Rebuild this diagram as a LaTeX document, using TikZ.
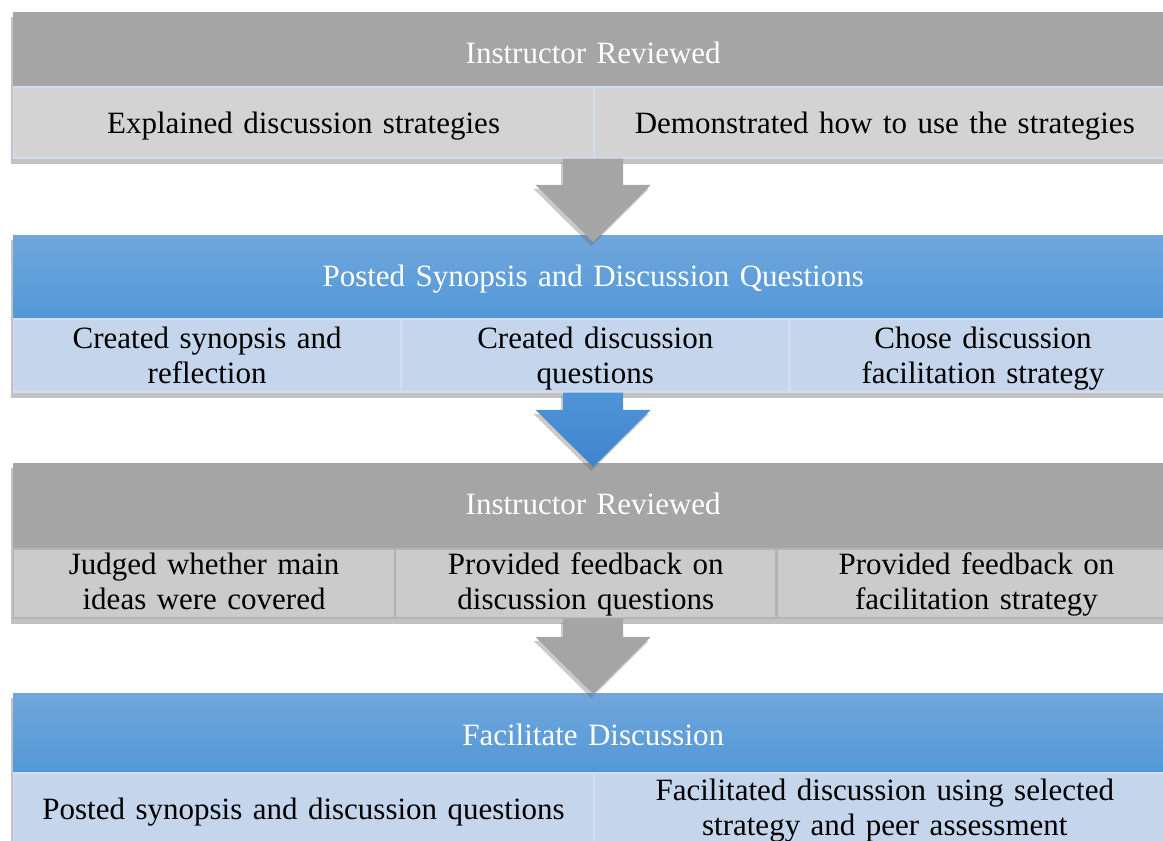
\documentclass[tikz,border=0pt]{standalone}
\usepackage{fontspec}
\setmainfont[WordSpace=1.35]{Liberation Serif}
\usetikzlibrary{backgrounds}
\usetikzlibrary{positioning}
\usetikzlibrary{shadows}
\usetikzlibrary{calc}
\usetikzlibrary{fit}

\definecolor{hdgray}{HTML}{A5A5A5}
\definecolor{cellgray}{HTML}{D3D3D3}
\definecolor{cellgrayb}{HTML}{CBCBCB}
\definecolor{linegray}{HTML}{B4B4B4}
\definecolor{hdbluetop}{HTML}{70A6DB}
\definecolor{hdbluebot}{HTML}{5298D8}
\definecolor{cellblue}{HTML}{C4D5EC}
\definecolor{lineblue}{HTML}{D2DEF0}
\definecolor{arrowbluetop}{HTML}{4F94D7}
\definecolor{arrowbluebot}{HTML}{3E85CC}

\newcommand\twolines[3]{\rule{0pt}{#1}#2\\\rule[-8pt]{0pt}{8pt}#3}

\tikzset{
  txt/.style={font=\fontsize{31}{35}\selectfont},
  tshift/.code={\pgfmathsetlengthmacro\tshh{20pt+#1}\pgfmathsetlengthmacro\tshd{20pt-#1}%
    \tikzset{text height=\tshh, text depth=\tshd}},
  hdr/.style={txt, anchor=north west, inner sep=0pt, text=white},
  hdrgray/.style={hdr, fill=hdgray},
  hdrblue/.style={hdr, top color=hdbluetop, bottom color=hdbluebot},
  cell/.style={txt, anchor=north west, inner sep=0pt, align=center, line width=1.2pt},
  cellgrayA/.style={cell, fill=cellgray, draw=lineblue},
  cellgrayB/.style={cell, fill=cellgrayb, draw=linegray},
  cellblueA/.style={cell, fill=cellblue, draw=lineblue},
  blockshadow/.style={inner sep=0pt, fill=white, drop shadow={shadow xshift=-2pt, shadow yshift=-5pt, opacity=0.4, fill=black!60}},
  arrowgray/.style={fill=hdgray, drop shadow={shadow xshift=-2pt, shadow yshift=-4pt, opacity=0.35, fill=black!60}},
  arrowblue/.style={top color=arrowbluetop, bottom color=arrowbluebot, drop shadow={shadow xshift=-2pt, shadow yshift=-4pt, opacity=0.35, fill=black!60}}
}

\newcommand\flowarrow[3]{%
  \path[#1] ($(#2)+(-30,0)$) -- ($(#3)+(-30,57)$) -- ($(#3)+(-57.5,57)$) -- (#3)
    -- ($(#3)+(57.5,57)$) -- ($(#3)+(30,57)$) -- ($(#2)+(30,0)$) -- cycle;}

\begin{document}
\begin{tikzpicture}[x=1pt,y=1pt]
\useasboundingbox (0,0) rectangle (1163,841);

\node[hdrgray, tshift=14pt, minimum width=1160, minimum height=74] (h1) at (13,829) {Instructor Reviewed};
\node[cellgrayA, tshift=11.5pt, minimum width=580, minimum height=71] (c11) at (h1.south west) {Explained discussion strategies};
\node[cellgrayA, tshift=11.5pt, minimum width=580, minimum height=71] (c12) at (c11.north east) {Demonstrated how to use the strategies};

\node[hdrblue, tshift=10pt, minimum width=1160, minimum height=83] (h2) at (13,606) {Posted Synopsis and Discussion Questions};
\node[cellblueA, minimum width=387, minimum height=70] (c21) at (h2.south west) {\twolines{30pt}{Created synopsis and}{reflection}};
\node[cellblueA, minimum width=387, minimum height=70] (c22) at (c21.north east) {\twolines{30pt}{Created discussion}{questions}};
\node[cellblueA, minimum width=386, minimum height=70] (c23) at (c22.north east) {\twolines{30pt}{Chose discussion}{facilitation strategy}};

\node[hdrgray, tshift=9pt, minimum width=1160, minimum height=85] (h3) at (13,378) {Instructor Reviewed};
\node[cellgrayB, minimum width=381, minimum height=69] (c31) at (h3.south west) {\twolines{25pt}{Judged whether main}{ideas were covered}};
\node[cellgrayB, minimum width=380, minimum height=69] (c32) at (c31.north east) {\twolines{25pt}{Provided feedback on}{discussion questions}};
\node[cellgrayB, minimum width=399, minimum height=69] (c33) at (c32.north east) {\twolines{25pt}{Provided feedback on}{facilitation strategy}};

\node[hdrblue, tshift=13pt, minimum width=1160, minimum height=79] (h4) at (13,148) {Facilitate Discussion};
\node[cellblueA, tshift=8.5pt, minimum width=580, minimum height=76] (c41) at (h4.south west) {Posted synopsis and discussion questions};
\node[cellblueA, minimum width=580, minimum height=76] (c42) at (c41.north east) {\twolines{23pt}{Facilitated discussion using selected}{strategy and peer assessment}};

\begin{scope}[on background layer]
\node[blockshadow, fit=(h1)(c11)(c12)] (s1) {};
\node[blockshadow, fit=(h2)(c21)(c23)] (s2) {};
\node[blockshadow, fit=(h3)(c31)(c33)] (s3) {};
\node[blockshadow, fit=(h4)(c41)(c42)] (s4) {};
\end{scope}

\coordinate (a1) at (h1.south |- c11.south);
\coordinate (t1) at ($(h2.north)+(0,-7)$);
\coordinate (a2) at (h2.south |- c21.south);
\coordinate (t2) at ($(h3.north)+(0,-4)$);
\coordinate (a3) at (h3.south |- c31.south);
\coordinate (t3) at ($(h4.north)+(0,-1)$);

\flowarrow{arrowgray}{a1}{t1}
\flowarrow{arrowblue}{a2}{t2}
\flowarrow{arrowgray}{a3}{t3}

\end{tikzpicture}
\end{document}
